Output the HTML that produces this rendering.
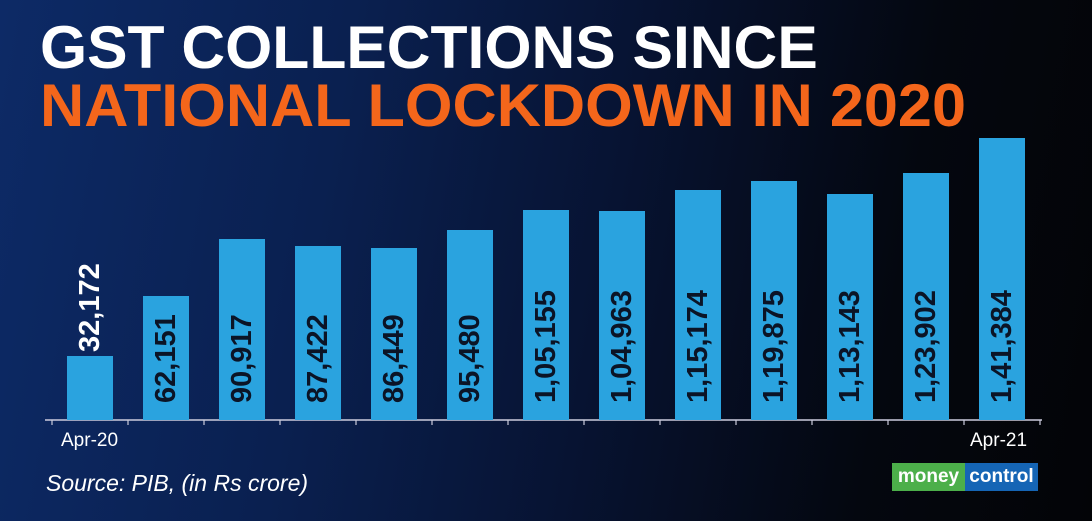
<!DOCTYPE html>
<html><head><style>
body{margin:0;}
#c{position:relative;width:1092px;height:521px;overflow:hidden;font-family:"Liberation Sans",sans-serif;
background:linear-gradient(100deg,#0d2a66 0%,#0a2050 30%,#071332 55%,#04070f 80%,#030407 100%);}
.t{position:absolute;left:40px;font-weight:bold;font-size:60px;line-height:1;white-space:nowrap;transform-origin:0 0;}
.bar{position:absolute;width:46px;background:#2aa3df;}
.lb{position:absolute;font-weight:bold;font-size:29px;color:#0b1426;white-space:nowrap;transform:rotate(-90deg);transform-origin:0 0;}
</style></head><body><div id="c">
<div class="t" style="top:18px;color:#fff;transform:scaleX(1.01)">GST COLLECTIONS SINCE</div>
<div class="t" style="top:76px;color:#f4661b;transform:scaleX(1.02)">NATIONAL LOCKDOWN IN 2020</div>
<svg width="1092" height="521" style="position:absolute;left:0;top:0">
<line x1="45" y1="420" x2="1042" y2="420" stroke="#ccd" stroke-width="1.5"/>
<g stroke="#ccd" stroke-width="1.2">
<line x1="52" y1="420" x2="52" y2="425"/><line x1="128" y1="420" x2="128" y2="425"/><line x1="204" y1="420" x2="204" y2="425"/><line x1="280" y1="420" x2="280" y2="425"/><line x1="356" y1="420" x2="356" y2="425"/><line x1="432" y1="420" x2="432" y2="425"/><line x1="508" y1="420" x2="508" y2="425"/><line x1="584" y1="420" x2="584" y2="425"/><line x1="660" y1="420" x2="660" y2="425"/><line x1="736" y1="420" x2="736" y2="425"/><line x1="812" y1="420" x2="812" y2="425"/><line x1="888" y1="420" x2="888" y2="425"/><line x1="964" y1="420" x2="964" y2="425"/><line x1="1040" y1="420" x2="1040" y2="425"/>
</g></svg>
<div class="bar" style="left:67px;top:356px;height:64px"></div>
<div class="bar" style="left:143px;top:296px;height:124px"></div>
<div class="bar" style="left:219px;top:239px;height:181px"></div>
<div class="bar" style="left:295px;top:246px;height:174px"></div>
<div class="bar" style="left:371px;top:248px;height:172px"></div>
<div class="bar" style="left:447px;top:230px;height:190px"></div>
<div class="bar" style="left:523px;top:210px;height:210px"></div>
<div class="bar" style="left:599px;top:211px;height:209px"></div>
<div class="bar" style="left:675px;top:190px;height:230px"></div>
<div class="bar" style="left:751px;top:181px;height:239px"></div>
<div class="bar" style="left:827px;top:194px;height:226px"></div>
<div class="bar" style="left:903px;top:173px;height:247px"></div>
<div class="bar" style="left:979px;top:138px;height:282px"></div>
<div class="lb" style="left:74px;top:352px;color:#fff">32,172</div>
<div class="lb" style="left:150px;top:403px">62,151</div>
<div class="lb" style="left:226px;top:403px">90,917</div>
<div class="lb" style="left:302px;top:403px">87,422</div>
<div class="lb" style="left:378px;top:403px">86,449</div>
<div class="lb" style="left:454px;top:403px">95,480</div>
<div class="lb" style="left:530px;top:403px">1,05,155</div>
<div class="lb" style="left:606px;top:403px">1,04,963</div>
<div class="lb" style="left:682px;top:403px">1,15,174</div>
<div class="lb" style="left:758px;top:403px">1,19,875</div>
<div class="lb" style="left:834px;top:403px">1,13,143</div>
<div class="lb" style="left:910px;top:403px">1,23,902</div>
<div class="lb" style="left:986px;top:403px">1,41,384</div>
<div style="position:absolute;left:61px;top:430px;color:#fff;font-size:19px">Apr-20</div>
<div style="position:absolute;left:970px;top:430px;color:#fff;font-size:19px">Apr-21</div>
<div style="position:absolute;left:46px;top:470px;color:#fff;font-size:23px;font-style:italic">Source: PIB, (in Rs crore)</div>
<div style="position:absolute;left:892px;top:463px;height:28px;width:73px;background:#4caf4a;color:#fff;font-weight:bold;font-size:19px;line-height:28px;text-align:center">money</div>
<div style="position:absolute;left:965px;top:463px;height:28px;width:73px;background:#1565b5;color:#fff;font-weight:bold;font-size:19px;line-height:28px;text-align:center">control</div>
</div></body></html>
